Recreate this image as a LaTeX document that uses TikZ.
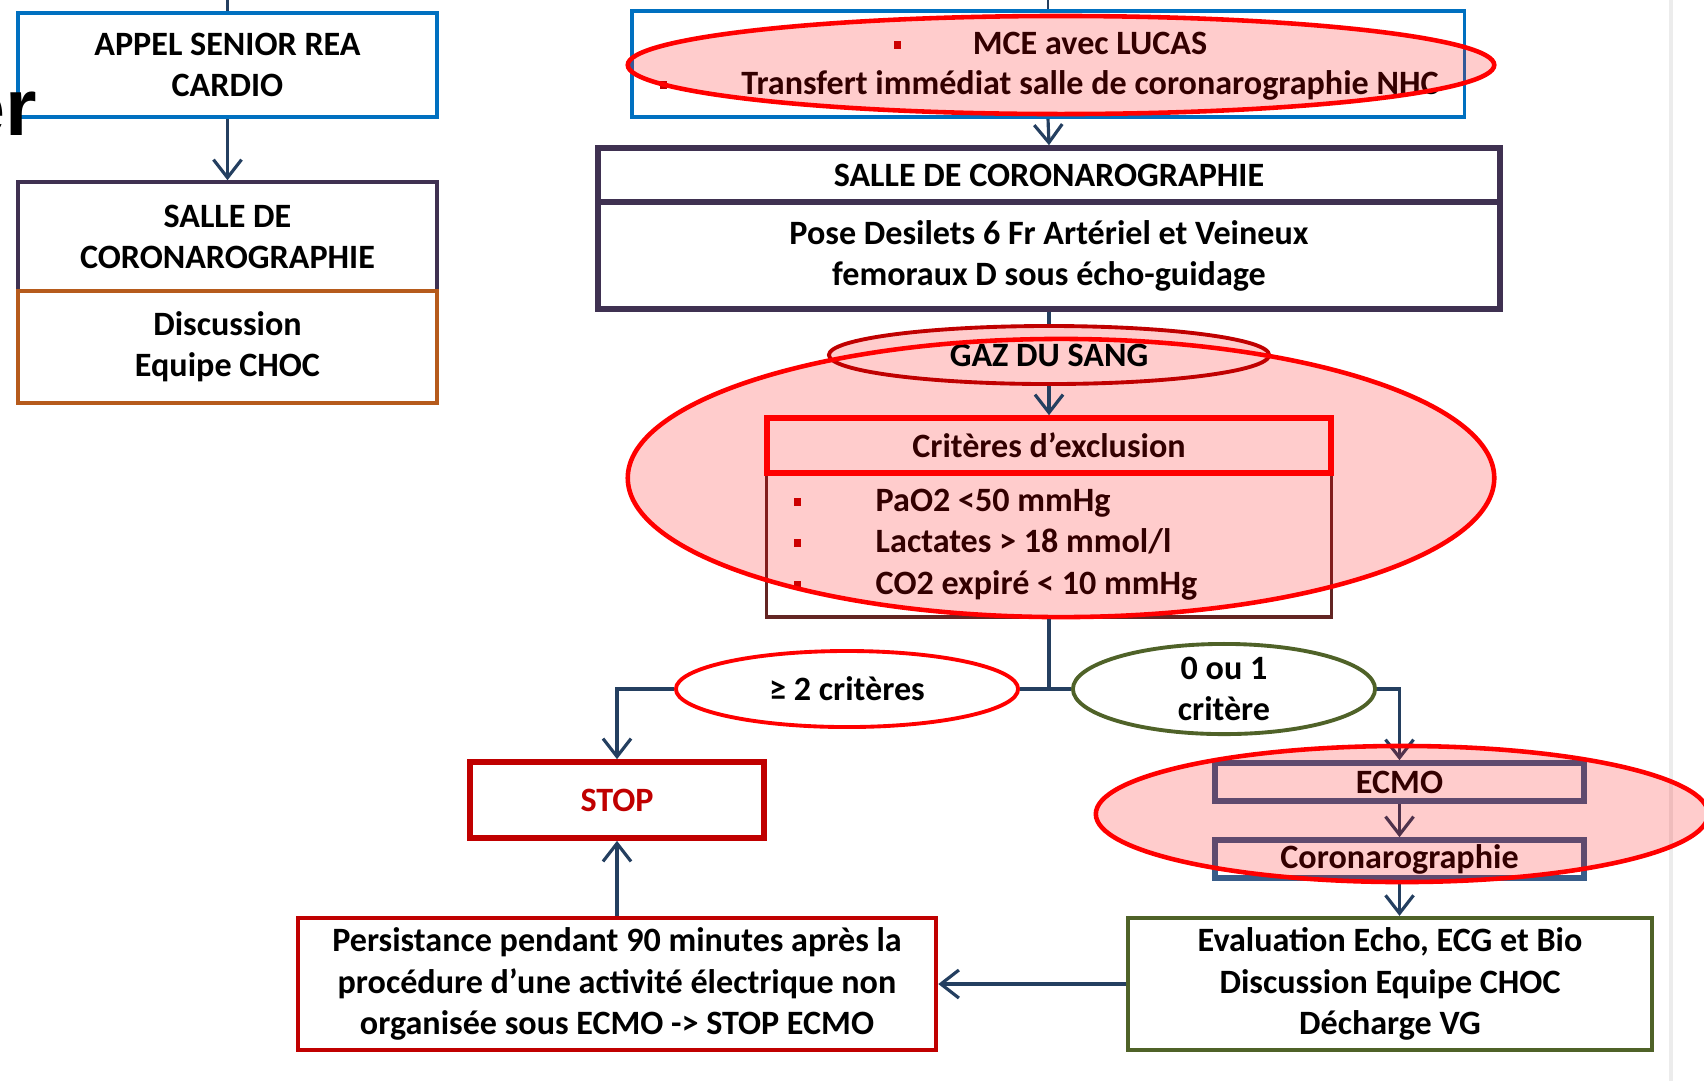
\documentclass[tikz,border=0pt]{standalone}
\usepackage{fontspec}
\setmainfont{Carlito}
\newfontfamily\arialfont{Liberation Sans}
\usetikzlibrary{arrows.meta,shapes.geometric}
\definecolor{boxblue}{HTML}{0070C0}
\definecolor{boxpurple}{HTML}{3F3151}
\definecolor{boxorange}{HTML}{B65B1C}
\definecolor{darkred}{HTML}{C00000}
\definecolor{listred}{HTML}{632523}
\definecolor{olivegreen}{HTML}{4F6228}
\definecolor{steel}{HTML}{385D8A}
\definecolor{navy}{HTML}{243F60}
\definecolor{pinkfill}{HTML}{FFCCCC}
\begin{document}
\begin{tikzpicture}[x=0.01cm, y=-0.01cm,
    every node/.style={font=\fontsize{9.7}{11.7}\selectfont\bfseries, align=center, inner sep=0pt},
    box/.style={draw, rectangle, line width=1pt},
    oval/.style={draw, ellipse, line width=1.1pt},
    item/.style={text height=1.6ex, text depth=.45ex},
    sq/.style={fill=darkred, minimum width=.07cm, minimum height=.08cm},
    link/.style={draw=navy, line width=.9pt},
    arrow/.style={link, -{Straight Barb[length=1.8mm, width=2.8mm, line width=.9pt]}},
    hl/.style={fill=red, fill opacity=.2},
    hlline/.style={draw=red, line width=1.3pt}]
  \useasboundingbox (0,0) rectangle (1704,1081);
  \draw[gray!15, line width=1pt] (1671,0) -- (1671,1081); % right edge
  %
  % left column
  \node[box, draw=boxblue, minimum width=4.19cm, minimum height=1.04cm] (appel) at (227.5,65) {APPEL SENIOR REA\\CARDIO};
  \node[box, draw=boxpurple, minimum width=4.19cm, minimum height=1.09cm] (salleL) at (227.5,236.5) {SALLE DE\\CORONAROGRAPHIE};
  \node[box, draw=boxorange, minimum width=4.19cm, minimum height=1.12cm] (discL) at (227.5,347) {Discussion\\Equipe CHOC};
  \node[font=\arialfont\bfseries\fontsize{23}{26}\selectfont, anchor=base east] (er) at (38,135) {er};
  \coordinate (appelTop) at (227.5,0);
  \draw[link, line width=.6pt] (appelTop) -- (appel.north);
  \draw[arrow] (appel.south) -- (salleL.north);
  %
  % right column, top
  \node[box, draw=boxblue, minimum width=8.32cm, minimum height=1.06cm] (mce) at (1048,64) {};
  \node[sq] (mceb1) at (897,45) {};
  \node[item] (mce1) at (1090,45) {MCE avec LUCAS};
  \node[sq] (mceb2) at (663,85) {};
  \node[item] (mce2) at (1090,85) {Transfert immédiat salle de coronarographie NHC};
  \coordinate (mceTop) at (1048,0);
  \draw[link, line width=.6pt] (mceTop) -- (mce.north);
  %
  \node[box, draw=boxpurple, line width=1.6pt, minimum width=9.02cm, minimum height=.54cm] (salleR) at (1049,175) {SALLE DE CORONAROGRAPHIE};
  \node[box, draw=boxpurple, line width=1.6pt, minimum width=9.02cm, minimum height=1.07cm] (pose) at (1049,255.5) {Pose Desilets 6 Fr Artériel et Veineux\\femoraux D sous écho-guidage};
  \draw[arrow] (mce.south) -- (salleR.north);
  %
  % criteria
  \node[box, draw=listred, line width=.9pt, minimum width=5.64cm, minimum height=1.44cm] (critList) at (1049,545) {};
  \node[box, draw=red, line width=1.6pt, minimum width=5.64cm, minimum height=.55cm] (crit) at (1049,445.5) {Critères d’exclusion};
  \node[sq] (cb1) at (797,502) {};
  \node[item, anchor=west] (c1) at (875,502) {PaO2 <50 mmHg};
  \node[sq] (cb2) at (797,543) {};
  \node[item, anchor=west] (c2) at (875,543) {Lactates > 18 mmol/l};
  \node[sq] (cb3) at (797,585) {};
  \node[item, anchor=west] (c3) at (875,585) {CO2 expiré < 10 mmHg};
  %
  \fill[hl] (1061,478) ellipse [x radius=4.33cm, y radius=1.39cm];
  \node[oval, draw=darkred, fill=pinkfill, minimum width=4.4cm, minimum height=.58cm] (gaz) at (1049,355) {GAZ DU SANG};
  \draw[hlline] (1061,478) ellipse [x radius=4.33cm, y radius=1.39cm];
  \draw[link] (pose.south) -- (gaz.north);
  \draw[arrow] (gaz.south) -- (crit.north);
  %
  % branches
  \node[oval, draw=red, fill=white, minimum width=3.42cm, minimum height=.76cm] (ge2) at (847,689) {≥ 2 critères};
  \node[oval, draw=olivegreen, fill=white, minimum width=3.02cm, minimum height=.84cm] (zero) at (1224,689) {0 ou 1\\critère};
  \coordinate (split) at (1049,689);
  \draw[link] (critList.south) -- (split);
  \draw[link] (ge2.east) -- (zero.west);
  %
  \node[box, draw=darkred, text=darkred, line width=1.6pt, minimum width=2.94cm, minimum height=.76cm] (stop) at (617,800) {STOP};
  \node[box, draw=steel, line width=1.6pt, minimum width=3.69cm, minimum height=.38cm] (ecmo) at (1399.5,782) {ECMO};
  \node[box, draw=steel, line width=1.6pt, minimum width=3.69cm, minimum height=.38cm] (coro) at (1399.5,859) {Coronarographie};
  \node[box, draw=olivegreen, line width=1.2pt, minimum width=5.24cm, minimum height=1.32cm] (eval) at (1390,984) {Evaluation Echo, ECG et Bio\\Discussion Equipe CHOC\\Décharge VG};
  \node[box, draw=darkred, line width=1.2pt, minimum width=6.38cm, minimum height=1.32cm] (pers) at (617,984) {Persistance pendant 90 minutes après la\\procédure d’une activité électrique non\\organisée sous ECMO -> STOP ECMO};
  %
  \draw[arrow] (ge2.west) -| (stop.north);
  \draw[arrow] (zero.east) -| (ecmo.north);
  \draw[arrow] (ecmo.south) -- (coro.north);
  \draw[arrow] (coro.south) -- (coro.south |- eval.north);
  \draw[arrow] (eval.west) -- (pers.east);
  \draw[arrow] (pers.north) -- (stop.south);
  %
  % highlights
  \fill[hl] (1061,65) ellipse [x radius=4.33cm, y radius=.49cm];
  \draw[hlline] (1061,65) ellipse [x radius=4.33cm, y radius=.49cm];
  \fill[hl] (1402,814) ellipse [x radius=3.06cm, y radius=.68cm];
  \draw[hlline] (1402,814) ellipse [x radius=3.06cm, y radius=.68cm];
\end{tikzpicture}
\end{document}
